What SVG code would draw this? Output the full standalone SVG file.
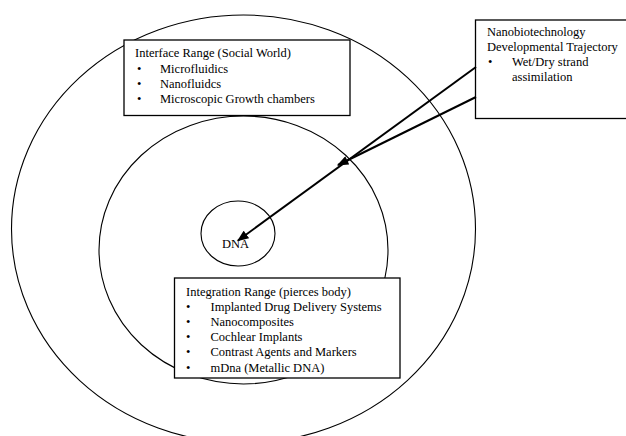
<svg xmlns="http://www.w3.org/2000/svg" width="626" height="436" viewBox="0 0 626 436">
  <defs>
    <marker id="head" viewBox="0 0 10 8" refX="9" refY="4" markerWidth="6" markerHeight="4.6" orient="auto" markerUnits="strokeWidth">
      <path d="M0,0 L10,4 L0,8 Z" fill="#000"/>
    </marker>
    <style>
      .ring { fill: none; stroke: #000; stroke-width: 1.1; }
      .box { fill: #fff; stroke: #000; stroke-width: 1.3; }
      .t { font-family: "Liberation Serif", "Times New Roman", serif; font-size: 12.5px; fill: #000; }
      .arrow { stroke: #000; stroke-width: 2; fill: none; marker-end: url(#head); }
    </style>
  </defs>
  <rect width="626" height="436" fill="#fff"/>

  <!-- concentric ranges -->
  <g id="outer-range">
    <ellipse class="ring" cx="243.5" cy="229" rx="232" ry="214"/>
  </g>
  <g id="middle-range">
    <ellipse class="ring" cx="243.5" cy="250" rx="144.5" ry="134"/>
  </g>
  <g id="dna">
    <ellipse class="ring" cx="238" cy="233.5" rx="37" ry="32.5"/>
    <text class="t" x="235.5" y="248" text-anchor="middle">DNA</text>
  </g>

  <!-- text boxes -->
  <g id="interface-range">
    <rect class="box" x="124" y="40" width="226" height="75.5"/>
    <text class="t" x="135" y="57.3">Interface Range (Social World)</text>
    <text class="t" x="137" y="72.7">•</text><text class="t" x="160" y="72.7">Microfluidics</text>
    <text class="t" x="137" y="87.7">•</text><text class="t" x="160" y="87.7">Nanofluidcs</text>
    <text class="t" x="137" y="102.7">•</text><text class="t" x="160" y="102.7">Microscopic Growth chambers</text>
  </g>

  <g id="trajectory">
    <rect class="box" x="475.5" y="20" width="160" height="98.5"/>
    <text class="t" x="487" y="36">Nanobiotechnology</text>
    <text class="t" x="487" y="51">Developmental Trajectory</text>
    <text class="t" x="488" y="66">•</text><text class="t" x="512" y="66">Wet/Dry strand</text>
    <text class="t" x="512" y="81">assimilation</text>
  </g>

  <g id="integration-range">
    <rect class="box" x="174.5" y="278" width="225.5" height="100"/>
    <text class="t" x="186" y="295.5">Integration Range (pierces body)</text>
    <text class="t" x="186" y="310.5">•</text><text class="t" x="210.5" y="310.5">Implanted Drug Delivery Systems</text>
    <text class="t" x="186" y="325.8">•</text><text class="t" x="210.5" y="325.8">Nanocomposites</text>
    <text class="t" x="186" y="341">•</text><text class="t" x="210.5" y="341">Cochlear Implants</text>
    <text class="t" x="186" y="356.3">•</text><text class="t" x="210.5" y="356.3">Contrast Agents and Markers</text>
    <text class="t" x="186" y="371.5">•</text><text class="t" x="210.5" y="371.5">mDna (Metallic DNA)</text>
  </g>

  <!-- trajectory arrows -->
  <g id="connectors">
    <line class="arrow" x1="476" y1="67" x2="238" y2="240.5"/>
    <line class="arrow" x1="476" y1="97" x2="338" y2="165"/>
  </g>
</svg>
